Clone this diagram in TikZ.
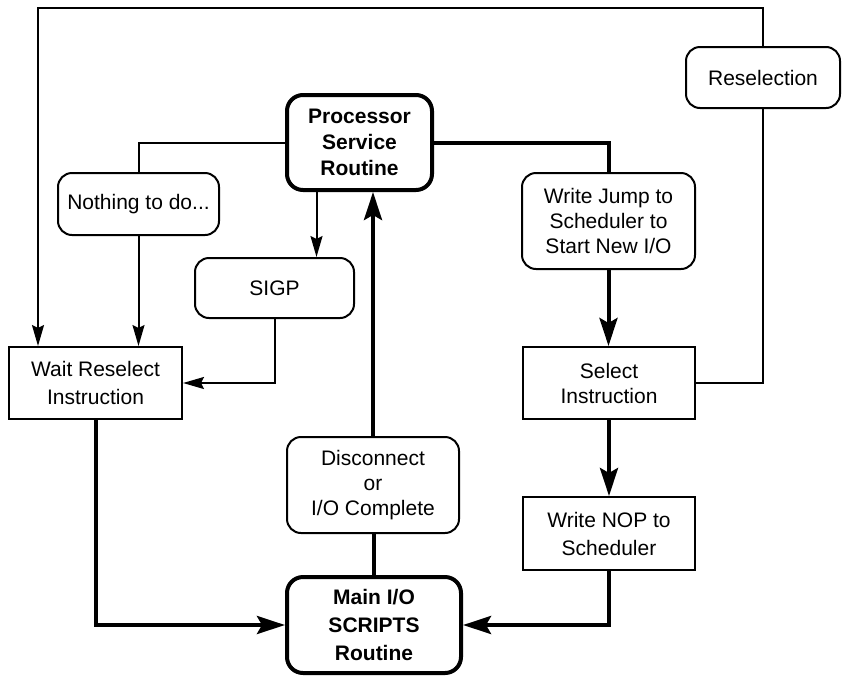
\documentclass[tikz,border=0pt]{standalone}
\usepackage{fontspec}
\setmainfont{Liberation Sans}
\usetikzlibrary{arrows.meta}
\begin{document}
\begin{tikzpicture}[x=1pt,y=-1pt,
  every node/.style={font=\fontsize{21}{25}\selectfont, align=center, inner sep=0pt},
  rbox/.style={draw, line width=2pt, rounded corners=14pt},
  sbox/.style={draw, line width=2pt},
  kbox/.style={draw, line width=4pt, rounded corners=16pt, font=\fontsize{21}{26}\selectfont\bfseries},
  thin/.style={line width=2pt},
  thick/.style={line width=4pt},
  tarr/.style={thin, -{Stealth[length=21pt,width=12pt,inset=3pt]}},
  karr/.style={thick, -{Stealth[length=28pt,width=18pt,inset=5pt]}}
]
\useasboundingbox (0,0) rectangle (842,678);

% nodes
\node[kbox, minimum width=145pt, minimum height=95pt] (psr) at (359.5,142.5) {Processor\\Service\\Routine};
\node[rbox, minimum width=161pt, minimum height=62pt] (nothing) at (138.5,204) {Nothing to do...};
\node[rbox, minimum width=159pt, minimum height=60pt] (sigp) at (274.5,288) {SIGP};
\node[sbox, minimum width=173pt, minimum height=72pt] (wait) at (95.5,383) {Wait Reselect\\[3pt]Instruction};
\node[rbox, minimum width=173pt, minimum height=96pt] (wjump) at (608.5,221) {Write Jump to\\Scheduler to\\Start New I/O};
\node[sbox, minimum width=172pt, minimum height=72pt] (select) at (609,383) {Select\\Instruction};
\node[sbox, minimum width=172pt, minimum height=73pt] (nop) at (609,533.5) {Write NOP to\\[3pt]Scheduler};
\node[rbox, minimum width=172pt, minimum height=96pt] (disc) at (373,485) {Disconnect\\or\\I/O Complete};
\node[kbox, minimum width=174pt, minimum height=96pt] (main) at (374,625) {Main I/O\\[2pt]SCRIPTS\\[2pt]Routine};
\node[rbox, minimum width=154pt, minimum height=61pt] (resel) at (763,77.5) {Reselection};

\coordinate (tl) at (38,8);

% thin connectors
\draw[thin] (psr.west) -| (nothing.north);
\draw[tarr] (nothing.south) -- (nothing.south |- wait.north);
\draw[tarr] ([xshift=-43pt]psr.south) -- ([xshift=-43pt]psr.south |- sigp.north);
\draw[tarr] (sigp.south) |- (wait.east);
\draw[thin] (select.east) -| (resel.south);
\draw[tarr] (resel.north) |- (tl) -- (tl |- wait.north);

% thick connectors
\draw[thick] (psr.east) -| (wjump.north);
\draw[karr] (wjump.south) -- (wjump.south |- select.north);
\draw[karr] (select.south) -- (nop.north);
\draw[karr] (nop.south) |- (main.east);
\draw[karr] (wait.south) |- (main.west);
\draw[thick] (main.north) -- (main.north |- disc.south);
\draw[karr] (disc.north) -- (disc.north |- psr.south);
\end{tikzpicture}
\end{document}
